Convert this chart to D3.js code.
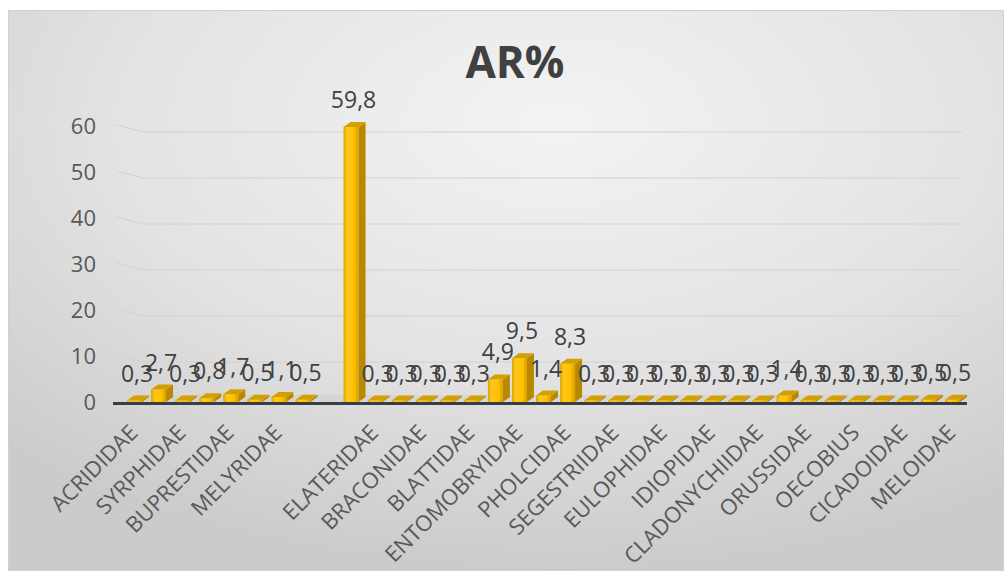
<!DOCTYPE html>
<html>
<head>
<meta charset="utf-8">
<script src="https://cdn.jsdelivr.net/npm/d3@7"></script>
<style>
  html, body { margin: 0; padding: 0; background: #ffffff; }
  svg { display: block; }
</style>
</head>
<body>
<svg id="chart" width="1008" height="577"></svg>
<script>
// Family names along the x axis (every other name is shown, empty slot has no data)
const categories = [
  "ACRIDIDAE", "", "SYRPHIDAE", "", "BUPRESTIDAE", "", "MELYRIDAE", "", "",
  "", "ELATERIDAE", "", "BRACONIDAE", "", "BLATTIDAE", "", "ENTOMOBRYIDAE", "",
  "PHOLCIDAE", "", "SEGESTRIIDAE", "", "EULOPHIDAE", "", "IDIOPIDAE", "",
  "CLADONYCHIIDAE", "", "ORUSSIDAE", "", "OECOBIUS", "", "CICADOIDAE", "", "MELOIDAE"
];
// Relative abundance AR% per family (null = empty slot)
const values = [
  0.3, 2.7, 0.3, 0.8, 1.7, 0.5, 1.1, 0.5, null,
  59.8, 0.3, 0.3, 0.3, 0.3, 0.3, 4.9, 9.5, 1.4,
  8.3, 0.3, 0.3, 0.3, 0.3, 0.3, 0.3, 0.3,
  0.3, 1.4, 0.3, 0.3, 0.3, 0.3, 0.3, 0.5, 0.5
];
const yTicks = [0, 10, 20, 30, 40, 50, 60];
const title = "AR%";

const fmt = v => String(v).replace(".", ",");
const FONT = "'Open Sans', 'DejaVu Sans', sans-serif";

const svg = d3.select("#chart");
const defs = svg.append("defs");

// chart-area background gradient
const bg = defs.append("radialGradient").attr("id", "bgGrad")
  .attr("cx", "55%").attr("cy", "20%").attr("r", "80%");
bg.append("stop").attr("offset", "0%").attr("stop-color", "#f3f3f3");
bg.append("stop").attr("offset", "55%").attr("stop-color", "#e3e3e3");
bg.append("stop").attr("offset", "100%").attr("stop-color", "#cbcbcb");

// bar front-face shading
const front = defs.append("linearGradient").attr("id", "frontGrad")
  .attr("x1", "0%").attr("x2", "100%").attr("y1", "0%").attr("y2", "0%");
front.append("stop").attr("offset", "0%").attr("stop-color", "#dfa300");
front.append("stop").attr("offset", "25%").attr("stop-color", "#ffc81e");
front.append("stop").attr("offset", "70%").attr("stop-color", "#ffc000");
front.append("stop").attr("offset", "100%").attr("stop-color", "#d89e00");

svg.append("rect")
  .attr("x", 8.5).attr("y", 10.5).attr("width", 995).attr("height", 560)
  .attr("fill", "url(#bgGrad)").attr("stroke", "#d0d0d0");

const x = d3.scaleBand().domain(d3.range(categories.length)).range([122, 964]);
const y = d3.scaleLinear().domain([0, 60]).range([402, 126]);

// gridlines: short slanted segment on the side wall, then along the back wall
const wallX0 = 117, wallX1 = 143, wallDrop = 6, gridEnd = 962;
svg.append("g").selectAll("path").data(yTicks.filter(t => t > 0)).join("path")
  .attr("d", t => `M${wallX0},${y(t) - 1}L${wallX1},${y(t) + wallDrop}L${gridEnd},${y(t) + wallDrop}`)
  .attr("fill", "none").attr("stroke", "#d2d2d2").attr("stroke-width", 1.2);

// floor strip
svg.append("path")
  .attr("d", `M113,403L967,403L962,395L140,395Z`)
  .attr("fill", "#cfcfcf").attr("opacity", 0.55);

// y-axis tick labels
svg.append("g").selectAll("text").data(yTicks).join("text")
  .attr("x", 96).attr("y", t => y(t))
  .attr("dy", "0.35em")
  .attr("text-anchor", "end")
  .attr("font-family", FONT).attr("font-size", 22)
  .attr("fill", "#595959")
  .text(t => t);

// 3D columns
const dx = 7, dy = -5, fl = 7, fr = 8;
const pts = values.map((v, i) => ({ v, i })).filter(d => d.v !== null);
const bars = svg.append("g").selectAll("g").data(pts).join("g");
bars.each(function (d) {
  const g = d3.select(this);
  const cx = x(d.i) + x.bandwidth() / 2;
  const x0 = cx - fl, x1 = cx + fr;
  const yb = y(0), yt = y(d.v);
  g.append("path")
    .attr("d", `M${x1},${yt}L${x1 + dx},${yt + dy}L${x1 + dx},${yb + dy}L${x1},${yb}Z`)
    .attr("fill", "#b78800");
  g.append("rect")
    .attr("x", x0).attr("y", yt).attr("width", x1 - x0).attr("height", yb - yt)
    .attr("fill", "url(#frontGrad)");
  g.append("path")
    .attr("d", `M${x0},${yt}L${x1},${yt}L${x1 + dx},${yt + dy}L${x0 + dx},${yt + dy}Z`)
    .attr("fill", "#d4a000");
});

// axis base line
svg.append("line")
  .attr("x1", 113).attr("x2", 967).attr("y1", 403.5).attr("y2", 403.5)
  .attr("stroke", "#3a3c46").attr("stroke-width", 3);

// data labels
svg.append("g").selectAll("text").data(pts).join("text")
  .attr("x", d => x(d.i) + x.bandwidth() / 2 + 3)
  .attr("y", d => y(d.v) - 19)
  .attr("text-anchor", "middle")
  .attr("font-family", FONT).attr("font-size", 23)
  .attr("fill", "#404040")
  .text(d => fmt(d.v));

// category labels, rotated
svg.append("g").selectAll("text")
  .data(categories.map((c, i) => ({ c, i })).filter(d => d.c !== ""))
  .join("text")
  .attr("transform", d => `translate(${x(d.i) + x.bandwidth() / 2 + 5},434) rotate(-45)`)
  .attr("text-anchor", "end")
  .attr("font-family", FONT).attr("font-size", 22)
  .attr("fill", "#595959")
  .text(d => d.c);

// title
svg.append("text")
  .attr("x", 515).attr("y", 78)
  .attr("text-anchor", "middle")
  .attr("font-family", FONT).attr("font-size", 44).attr("font-weight", "bold")
  .attr("fill", "#404040")
  .text(title);
</script>
</body>
</html>
